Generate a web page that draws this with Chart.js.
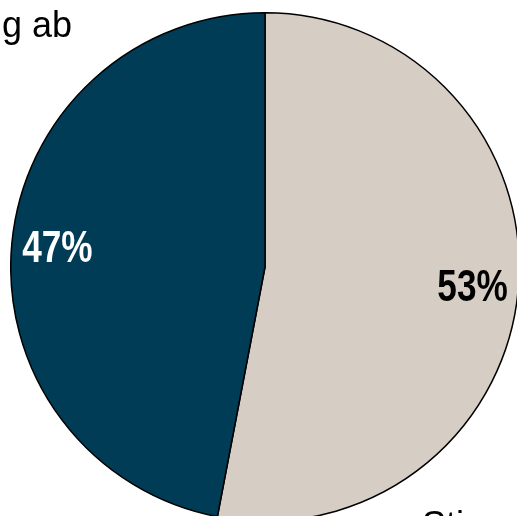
<!DOCTYPE html>
<html>
<head>
<meta charset="utf-8">
<script src="https://cdn.jsdelivr.net/npm/chart.js@4.4.1/dist/chart.umd.min.js"></script>
<style>
  html, body { margin: 0; padding: 0; background: #ffffff; overflow: hidden; }
  #wrap { position: relative; width: 517px; height: 516px; overflow: hidden; }
  #pie { position: absolute; left: 10px; top: 12px; }
</style>
</head>
<body>
<div id="wrap"><canvas id="pie" width="510" height="510"></canvas></div>
<script>
const categories = ['Stimme zu', 'Lehne Erhöhung ab'];
const shares = [53, 47];
const sliceColors = ['#d6cdc4', '#003c56'];
const labelColors = ['#000000', '#ffffff'];

// percent labels sit inside each slice, near the rim (condensed bold)
const sliceLabels = {
  id: 'sliceLabels',
  afterDatasetsDraw(chart) {
    const ctx = chart.ctx;
    const meta = chart.getDatasetMeta(0);
    meta.data.forEach((arc, i) => {
      const mid = (arc.startAngle + arc.endAngle) / 2;
      const r = arc.outerRadius * 0.82;
      const x = arc.x + Math.cos(mid) * r;
      const y = arc.y + Math.sin(mid) * r + 2;
      ctx.save();
      ctx.translate(x, y);
      ctx.scale(0.8, 1);
      ctx.font = "bold 44px 'Liberation Sans', Arial, sans-serif";
      ctx.textAlign = 'center';
      ctx.textBaseline = 'middle';
      ctx.fillStyle = labelColors[i];
      ctx.fillText(shares[i] + '%', 0, 0);
      ctx.restore();
    });
  }
};

const chart = new Chart(document.getElementById('pie'), {
  type: 'pie',
  data: {
    labels: categories,
    datasets: [{
      data: shares,
      backgroundColor: sliceColors,
      borderColor: '#000000',
      borderWidth: 1.5
    }]
  },
  options: {
    responsive: false,
    animation: false,
    rotation: 0,
    layout: { padding: 0 },
    plugins: {
      legend: { display: false },
      tooltip: { enabled: false }
    }
  },
  plugins: [sliceLabels]
});

// category names are drawn on an overlay canvas, partly outside the view
const overlay = document.createElement('canvas');
overlay.width = 517;
overlay.height = 516;
overlay.style.position = 'absolute';
overlay.style.left = '0px';
overlay.style.top = '0px';
document.getElementById('wrap').appendChild(overlay);
const octx = overlay.getContext('2d');
octx.font = "36px 'Liberation Sans', Arial, sans-serif";
octx.fillStyle = '#000000';
octx.textBaseline = 'alphabetic';
octx.textAlign = 'right';
octx.fillText(categories[1], 72, 37);
octx.textAlign = 'left';
octx.fillText(categories[0], 422, 537);
</script>
</body>
</html>
